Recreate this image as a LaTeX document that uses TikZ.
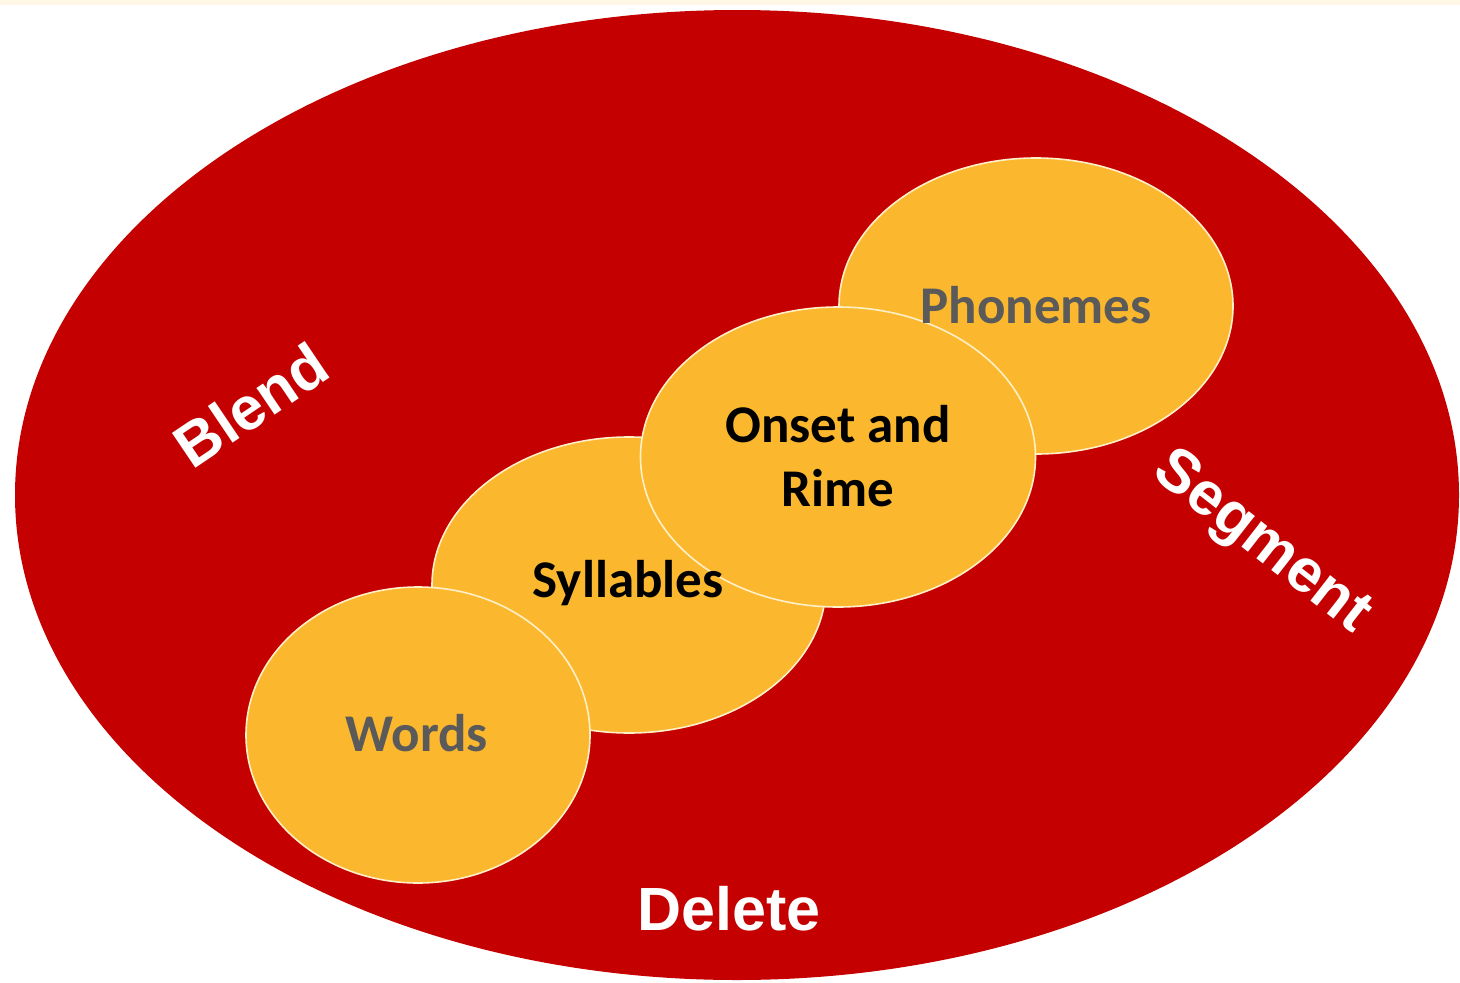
\documentclass[tikz,border=0pt]{standalone}
\usepackage{fontspec}
\usetikzlibrary{shapes.geometric}
\newfontfamily\carl{Carlito}
\newfontfamily\arl{Liberation Sans}
\definecolor{bigred}{HTML}{C40000}
\definecolor{gold}{HTML}{FBB82E}
\definecolor{rim}{HTML}{FFF0C8}
\definecolor{greytext}{HTML}{5A5A5A}
\definecolor{cream}{HTML}{FFF7E6}
\tikzset{
  disc/.style={ellipse, fill=gold, draw=rim, line width=1.6pt, inner sep=0pt},
  lvl/.style={font=\carl\bfseries\fontsize{53}{64}\selectfont, align=center},
  act/.style={font=\arl\bfseries\fontsize{61}{68}\selectfont, text=white, inner sep=0pt}
}
\begin{document}
\begin{tikzpicture}[x=1pt,y=-1pt]
\useasboundingbox (0,0) rectangle (1460,983);
\fill[white] (0,0) rectangle (1460,983);
\fill[cream] (0,0) rectangle (1460,5);
\node[ellipse, fill=bigred, inner sep=0pt, minimum width=1444pt, minimum height=970pt] (outer) at (737,495) {};
\node[disc, minimum width=394pt, minimum height=296pt] (phon) at (1036,306) {};
\node[disc, minimum width=394pt, minimum height=296pt] (syll) at (629,585) {};
\node[disc, minimum width=344pt, minimum height=296pt] (words) at (418,735) {};
\node[disc, minimum width=395pt, minimum height=300pt] (onset) at (838,457) {};
\node[lvl, text=greytext] (tphon) at (1036,305) {Phonemes};
\node[lvl, text=black] (tsyll) at (628,583) {Syllables};
\node[lvl, text=greytext] (twords) at (417,733) {Words};
\node[lvl, text=black] (tonset) at (838,456) {Onset and\\Rime};
\node[act, rotate=34] (blend) at (251,405) {Blend};
\node[act, rotate=-38] (segment) at (1261,543) {Segment};
\node[act] (delete) at (729,909) {Delete};
\end{tikzpicture}
\end{document}
